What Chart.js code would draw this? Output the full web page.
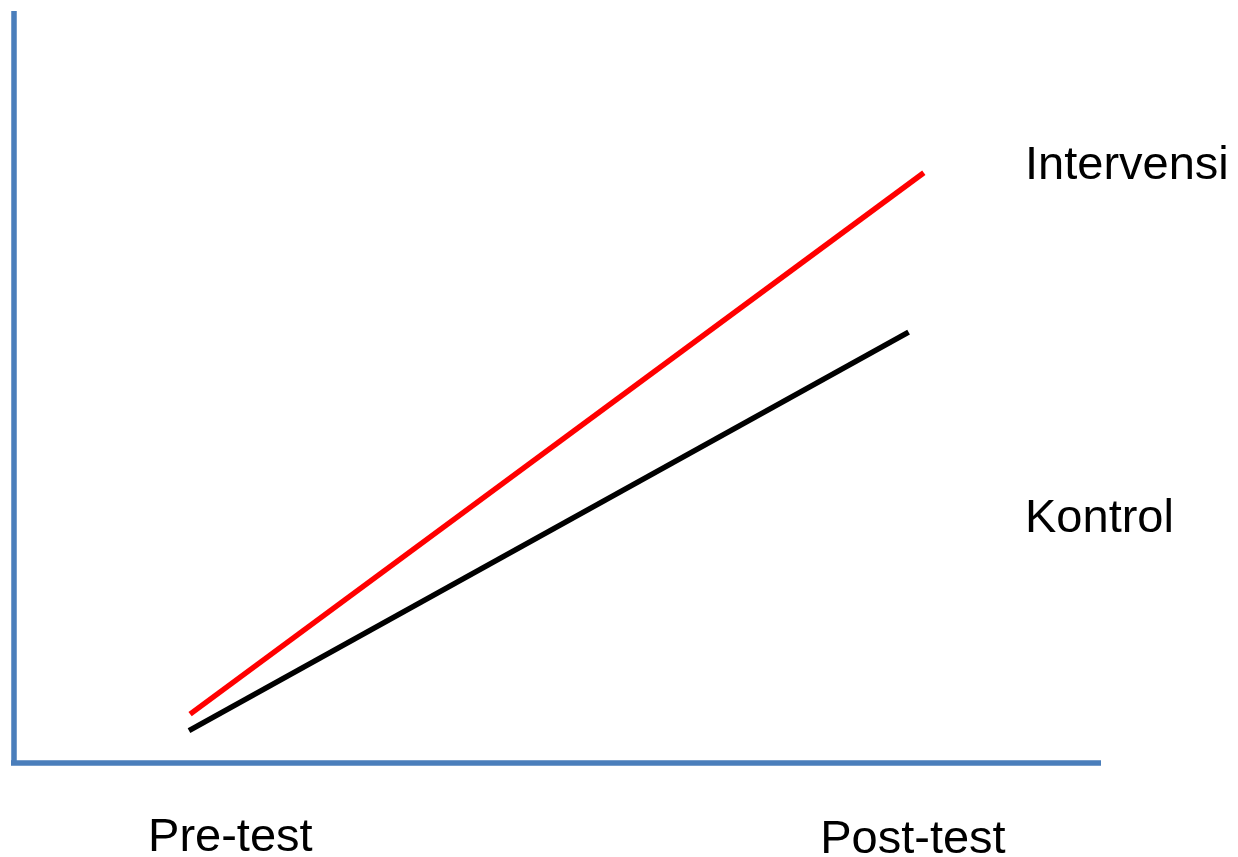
<!DOCTYPE html>
<html>
<head>
<meta charset="utf-8">
<title>Intervensi vs Kontrol</title>
<script src="https://cdn.jsdelivr.net/npm/chart.js@4"></script>
<style>
  html, body { margin: 0; padding: 0; background: #fff; }
  #wrap { width: 1238px; height: 857px; }
</style>
</head>
<body>
<div id="wrap"><canvas id="chart" width="1238" height="857"></canvas></div>
<script>
/* ── Pre/Post diagram ─────────────────────────────────────────────────────── */

// x runs 0..100 along the blue axis, y runs 0..100 up the blue axis
const seriesNames     = ['Intervensi', 'Kontrol'];
const intervensiX     = [16.2, 83.7];
const intervensiY     = [6.5, 78.5];
const kontrolX        = [16.1, 82.3];
const kontrolY        = [4.3, 57.3];
const tickLabels      = ['Pre-test', 'Post-test'];
const tickValues      = [19.9, 82.7];
const nameLabelValues = [77.7, 30.7];   // y value of each series name on the right

const FONT   = '47px "Liberation Sans", Arial, sans-serif';
const BLUE   = '#4a7ebb';
const COLORS = ['#ff0000', '#000000'];

const toPoints = (xs, ys) => xs.map((x, i) => ({ x, y: ys[i] }));

// ── Axes, tick labels and series names ───────────────────────────────────────
const decor = {
  id: 'decor',
  beforeDatasetsDraw(chart) {
    const { ctx, chartArea: a } = chart;
    ctx.save();
    ctx.strokeStyle = BLUE;
    ctx.lineWidth = 5.5;
    ctx.beginPath();
    ctx.moveTo(a.left, a.top);
    ctx.lineTo(a.left, a.bottom);
    ctx.moveTo(a.left - 3, a.bottom);
    ctx.lineTo(a.right, a.bottom);
    ctx.stroke();
    ctx.restore();
  },
  afterDatasetsDraw(chart) {
    const { ctx, chartArea: a, scales: { x, y } } = chart;
    ctx.save();
    ctx.font = FONT;
    ctx.fillStyle = '#000';
    ctx.textBaseline = 'alphabetic';

    ctx.textAlign = 'center';
    tickLabels.forEach((t, i) => {
      ctx.fillText(t, x.getPixelForValue(tickValues[i]), a.bottom + 88 + i * 2);
    });

    ctx.textAlign = 'left';
    seriesNames.forEach((n, i) => {
      ctx.fillText(n, a.right - 76, y.getPixelForValue(nameLabelValues[i]));
    });
    ctx.restore();
  },
};

new Chart(document.getElementById('chart'), {
  type: 'line',
  data: {
    datasets: [
      { label: seriesNames[0], data: toPoints(intervensiX, intervensiY) },
      { label: seriesNames[1], data: toPoints(kontrolX, kontrolY) },
    ].map((d, i) => ({
      ...d,
      borderColor: COLORS[i],
      borderWidth: 5.5,
      borderCapStyle: 'butt',
      pointRadius: 0,
      fill: false,
      tension: 0,
    })),
  },
  options: {
    responsive: false,
    animation: false,
    events: [],
    layout: { padding: { left: 14, right: 137, top: 11, bottom: 94 } },
    plugins: { legend: { display: false }, tooltip: { enabled: false } },
    scales: {
      x: { type: 'linear', min: 0, max: 100, display: false },
      y: { type: 'linear', min: 0, max: 100, display: false },
    },
  },
  plugins: [decor],
});
</script>
</body>
</html>
